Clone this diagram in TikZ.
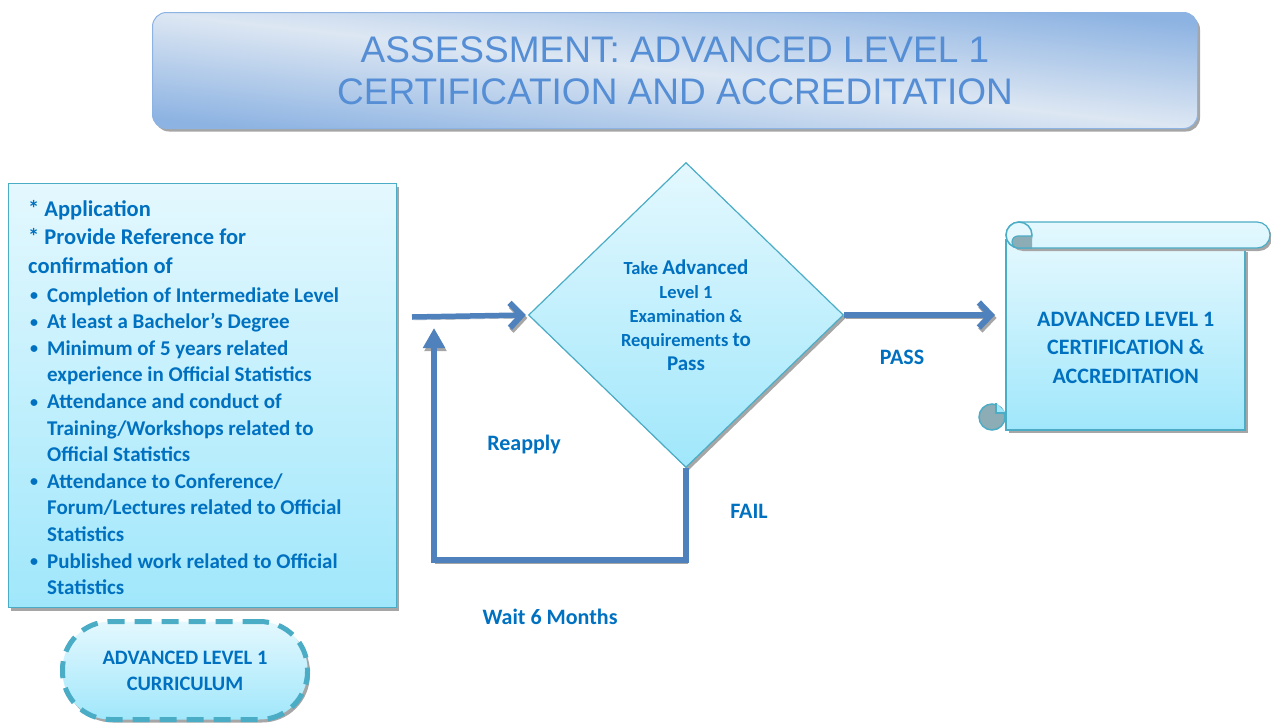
\documentclass[tikz,border=0pt]{standalone}
\usepackage{fontspec}
\setmainfont{Carlito}
\newfontfamily\titlefont{Liberation Sans}
\usetikzlibrary{shapes.geometric,arrows.meta,shadows}

\definecolor{boxtop}{RGB}{228,248,254}
\definecolor{boxbot}{RGB}{160,231,251}
\definecolor{boxline}{RGB}{75,172,198}
\definecolor{flowblue}{RGB}{79,129,189}
\definecolor{txtblue}{RGB}{0,112,192}
\definecolor{titlelight}{RGB}{221,231,243}
\definecolor{titleblue}{RGB}{141,179,226}
\definecolor{titletxt}{RGB}{85,142,213}
\definecolor{curlgrey}{RGB}{140,172,182}

\newcommand{\dotitem}{\hspace{2pt}\raisebox{1.5pt}{\fontsize{16}{16}\selectfont •}}

\tikzset{
  greyshadow/.style={drop shadow={shadow xshift=2.5pt, shadow yshift=-3pt, fill=black!35, opacity=1}},
  cyanbox/.style={top color=boxtop, bottom color=boxbot, draw=boxline, line width=1.2pt},
  bluetext/.style={text=txtblue, font=\bfseries},
  flowarrow/.style={draw=flowblue, line width=5.5pt,
    preaction={draw=black!35, transform canvas={shift={(1.5pt,-3pt)}}}},
  barbtip/.style={-{Straight Barb[length=12pt, width=25pt, line width=6pt]}},
}

\begin{document}
\begin{tikzpicture}[x=1pt,y=1pt]
\useasboundingbox (0,0) rectangle (1271,-723);

% title
\node[greyshadow, rounded corners=14, draw=titleblue, line width=1pt,
  top color=titleblue, bottom color=titleblue, middle color=titlelight, shading angle=-6.3,
  minimum width=1045, minimum height=116, anchor=north west, align=center,
  text=titletxt, font=\titlefont\fontsize{37}{42}\selectfont] (title) at (152,-12)
  {ASSESSMENT: ADVANCED LEVEL 1\\CERTIFICATION AND ACCREDITATION};

% requirements
\node[cyanbox, greyshadow, minimum width=388, minimum height=424, anchor=north west] (req) at (8,-183) {};
\node[bluetext, anchor=north west, inner sep=0] (reqtext) at (28,-198)
  {\fontsize{21}{26.6}\selectfont
  \begin{tabular}{@{}p{19pt}@{}l@{}}
  \multicolumn{2}{@{}l@{}}{\fontsize{22.5}{26.6}\selectfont * Application}\\[1.5pt]
  \multicolumn{2}{@{}l@{}}{\fontsize{22.5}{26.6}\selectfont * Provide Reference for}\\[2pt]
  \multicolumn{2}{@{}l@{}}{\fontsize{22.5}{26.6}\selectfont confirmation of}\\[2pt]
  \dotitem & Completion of Intermediate Level\\
  \dotitem & At least a Bachelor’s Degree\\
  \dotitem & Minimum of 5 years related\\
   & experience in Official Statistics\\
  \dotitem & Attendance and conduct of\\
   & Training/Workshops related to\\
   & Official Statistics\\
  \dotitem & Attendance to Conference/\\
   & Forum/Lectures related to Official\\
   & Statistics\\
  \dotitem & Published work related to Official\\
   & Statistics
  \end{tabular}};

% curriculum
\node[greyshadow, top color=boxtop, bottom color=boxbot, draw=boxline, line width=5pt,
  dash pattern=on 17pt off 10pt, rounded corners=48, minimum width=245, minimum height=98,
  anchor=north west, align=center, bluetext, font=\bfseries\fontsize{20.5}{26}\selectfont]
  (curr) at (60,-619) {ADVANCED LEVEL 1\\CURRICULUM};

% exam
\node[diamond, cyanbox, greyshadow, minimum width=315, minimum height=305, inner sep=0,
  align=center, bluetext, font=\bfseries\fontsize{18.5}{24}\selectfont] (exam) at (686,-315)
  {Take {\fontsize{21}{24}\selectfont Advanced}\\Level 1\\Examination \&\\
   Requirements {\fontsize{21}{24}\selectfont to}\\{\fontsize{21}{24}\selectfont Pass}};

% scroll
\fill[black!35] (1009,-252) rectangle (1248,-433);
\draw[cyanbox] (1006,-240) -- (1006,-430) -- (1245,-430) -- (1245,-240) -- cycle;
\filldraw[fill=curlgrey, draw=boxline, line width=1.5pt] (992,-417) circle (13);
\filldraw[fill=boxbot, draw=boxline, line width=1.2pt] (996,-403) -- (996,-413) -- (1006,-413);
\fill[black!35, rounded corners=13] (1010,-225) rectangle (1272,-251);
\draw[cyanbox, top color=boxtop, bottom color=boxtop!85!boxbot, rounded corners=13] (1006,-222) rectangle (1270,-248);
\filldraw[fill=boxtop, draw=boxline, line width=1.5pt] (1019,-235) circle (13);
\filldraw[fill=curlgrey, draw=boxline, line width=1.2pt] (1032,-236) -- (1018,-236) arc[start angle=90, end angle=270, radius=6] -- (1032,-248);
\node[minimum width=239, minimum height=164, anchor=south west, align=center, bluetext,
  font=\bfseries\fontsize{22}{28.5}\selectfont] (cert) at (1006,-430)
  {ADVANCED LEVEL 1\\CERTIFICATION \&\\ACCREDITATION};

% connectors
\coordinate (start) at (412,-317);
\coordinate (back) at (434,-560);
\coordinate (reentry) at (434,-328);
\draw[flowarrow, barbtip, shorten >=2pt] (start) -- (exam.west);
\draw[flowarrow, barbtip, shorten >=11pt] (exam.east) -- (exam.east -| cert.west);
\draw[flowarrow, line width=6pt, line join=miter, -{Triangle[length=20pt, width=21pt]}] (exam.south) |- (back) -- (reentry);

% labels
\node[bluetext, font=\bfseries\fontsize{22}{26}\selectfont] (pass) at (902,-357) {PASS};
\node[bluetext, font=\bfseries\fontsize{22}{26}\selectfont] (fail) at (749,-511) {FAIL};
\node[bluetext, font=\bfseries\fontsize{22}{26}\selectfont] (reapply) at (524,-445) {Reapply};
\node[bluetext, font=\bfseries\fontsize{22}{26}\selectfont] (wait) at (550,-617) {Wait 6 Months};
\end{tikzpicture}
\end{document}
